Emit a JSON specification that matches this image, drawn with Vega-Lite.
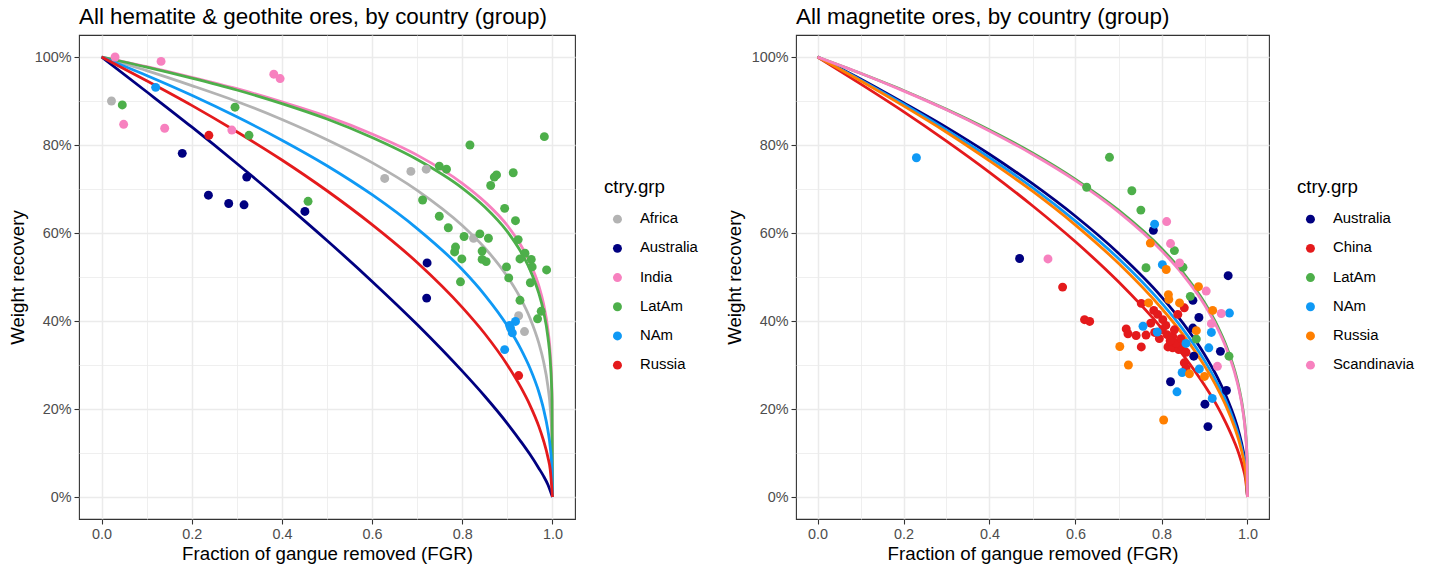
{
  "$schema": "https://vega.github.io/schema/vega-lite/v6.json",
  "background": "white",
  "padding": {"left": 7, "top": 5, "right": 5, "bottom": 2},
  "config": {
    "font": "Liberation Sans",
    "view": {"stroke": "#333333", "strokeWidth": 1.1},
    "axis": {"domain": false, "gridColor": "#EBEBEB", "tickColor": "#333333", "tickSize": 5, "tickWidth": 1.1, "labelColor": "#4D4D4D", "labelFontSize": 14.4, "titleFontSize": 18.7, "titleFontWeight": "normal", "titleColor": "#000000", "labelPadding": 3, "labelOverlap": false, "labelFlush": false},
    "axisY": {"titlePadding": 7},
    "axisX": {"titlePadding": 4},
    "legend": {"titleFontSize": 18.7, "titleFontWeight": "normal", "titleColor": "#000000", "labelFontSize": 14.9, "labelColor": "#000000", "symbolSize": 80, "symbolType": "circle", "symbolStrokeWidth": 0, "rowPadding": 13.2, "titlePadding": 15, "symbolOffset": 6, "labelOffset": 15, "padding": 0},
    "title": {"fontSize": 22.4, "fontWeight": "normal", "anchor": "start", "frame": "group", "color": "#000000", "offset": 7}
  },
  "datasets": {
    "hem_pts": [
      {"g": "Africa", "fgr": 0.022, "wr": 0.900}, {"g": "Africa", "fgr": 0.628, "wr": 0.724}, {"g": "Africa", "fgr": 0.686, "wr": 0.740}, {"g": "Africa", "fgr": 0.720, "wr": 0.745}, {"g": "Africa", "fgr": 0.825, "wr": 0.588}, {"g": "Africa", "fgr": 0.925, "wr": 0.412}, {"g": "Africa", "fgr": 0.938, "wr": 0.376},
      {"g": "Australia", "fgr": 0.179, "wr": 0.781}, {"g": "Australia", "fgr": 0.237, "wr": 0.686}, {"g": "Australia", "fgr": 0.282, "wr": 0.667}, {"g": "Australia", "fgr": 0.316, "wr": 0.664}, {"g": "Australia", "fgr": 0.322, "wr": 0.727}, {"g": "Australia", "fgr": 0.451, "wr": 0.649}, {"g": "Australia", "fgr": 0.722, "wr": 0.532}, {"g": "Australia", "fgr": 0.721, "wr": 0.452},
      {"g": "India", "fgr": 0.030, "wr": 1.000}, {"g": "India", "fgr": 0.132, "wr": 0.990}, {"g": "India", "fgr": 0.049, "wr": 0.847}, {"g": "India", "fgr": 0.140, "wr": 0.838}, {"g": "India", "fgr": 0.289, "wr": 0.834}, {"g": "India", "fgr": 0.382, "wr": 0.961}, {"g": "India", "fgr": 0.396, "wr": 0.951},
      {"g": "LatAm", "fgr": 0.046, "wr": 0.891}, {"g": "LatAm", "fgr": 0.296, "wr": 0.886}, {"g": "LatAm", "fgr": 0.327, "wr": 0.822}, {"g": "LatAm", "fgr": 0.458, "wr": 0.672}, {"g": "LatAm", "fgr": 0.982, "wr": 0.819}, {"g": "LatAm", "fgr": 0.817, "wr": 0.800}, {"g": "LatAm", "fgr": 0.749, "wr": 0.752}, {"g": "LatAm", "fgr": 0.765, "wr": 0.745}, {"g": "LatAm", "fgr": 0.913, "wr": 0.737}, {"g": "LatAm", "fgr": 0.876, "wr": 0.732}, {"g": "LatAm", "fgr": 0.871, "wr": 0.727}, {"g": "LatAm", "fgr": 0.863, "wr": 0.708}, {"g": "LatAm", "fgr": 0.712, "wr": 0.675}, {"g": "LatAm", "fgr": 0.894, "wr": 0.656}, {"g": "LatAm", "fgr": 0.749, "wr": 0.638}, {"g": "LatAm", "fgr": 0.918, "wr": 0.628}, {"g": "LatAm", "fgr": 0.769, "wr": 0.612}, {"g": "LatAm", "fgr": 0.804, "wr": 0.592}, {"g": "LatAm", "fgr": 0.839, "wr": 0.598}, {"g": "LatAm", "fgr": 0.858, "wr": 0.588}, {"g": "LatAm", "fgr": 0.924, "wr": 0.585}, {"g": "LatAm", "fgr": 0.785, "wr": 0.568}, {"g": "LatAm", "fgr": 0.783, "wr": 0.557}, {"g": "LatAm", "fgr": 0.799, "wr": 0.541}, {"g": "LatAm", "fgr": 0.844, "wr": 0.559}, {"g": "LatAm", "fgr": 0.844, "wr": 0.540}, {"g": "LatAm", "fgr": 0.853, "wr": 0.535}, {"g": "LatAm", "fgr": 0.939, "wr": 0.554}, {"g": "LatAm", "fgr": 0.928, "wr": 0.541}, {"g": "LatAm", "fgr": 0.953, "wr": 0.540}, {"g": "LatAm", "fgr": 0.955, "wr": 0.523}, {"g": "LatAm", "fgr": 0.898, "wr": 0.523}, {"g": "LatAm", "fgr": 0.987, "wr": 0.516}, {"g": "LatAm", "fgr": 0.903, "wr": 0.498}, {"g": "LatAm", "fgr": 0.796, "wr": 0.489}, {"g": "LatAm", "fgr": 0.928, "wr": 0.447}, {"g": "LatAm", "fgr": 0.951, "wr": 0.487}, {"g": "LatAm", "fgr": 0.975, "wr": 0.422}, {"g": "LatAm", "fgr": 0.967, "wr": 0.405},
      {"g": "NAm", "fgr": 0.120, "wr": 0.931}, {"g": "NAm", "fgr": 0.907, "wr": 0.384}, {"g": "NAm", "fgr": 0.918, "wr": 0.399}, {"g": "NAm", "fgr": 0.911, "wr": 0.373}, {"g": "NAm", "fgr": 0.905, "wr": 0.390}, {"g": "NAm", "fgr": 0.894, "wr": 0.335},
      {"g": "Russia", "fgr": 0.238, "wr": 0.822}, {"g": "Russia", "fgr": 0.925, "wr": 0.276}
    ],
    "hem_fit": [
      {"g": "Africa", "fgr": 0, "wr": 1}, {"g": "Africa", "fgr": 0.1, "wr": 0.969}, {"g": "Africa", "fgr": 0.2, "wr": 0.935}, {"g": "Africa", "fgr": 0.3, "wr": 0.899}, {"g": "Africa", "fgr": 0.4, "wr": 0.858}, {"g": "Africa", "fgr": 0.5, "wr": 0.812}, {"g": "Africa", "fgr": 0.6, "wr": 0.760}, {"g": "Africa", "fgr": 0.7, "wr": 0.697}, {"g": "Africa", "fgr": 0.8, "wr": 0.617}, {"g": "Africa", "fgr": 0.85, "wr": 0.566}, {"g": "Africa", "fgr": 0.9, "wr": 0.501}, {"g": "Africa", "fgr": 0.93, "wr": 0.450}, {"g": "Africa", "fgr": 0.95, "wr": 0.407}, {"g": "Africa", "fgr": 0.97, "wr": 0.349}, {"g": "Africa", "fgr": 0.98, "wr": 0.309}, {"g": "Africa", "fgr": 0.99, "wr": 0.251}, {"g": "Africa", "fgr": 0.995, "wr": 0.204}, {"g": "Africa", "fgr": 0.999, "wr": 0.126}, {"g": "Africa", "fgr": 1, "wr": 0},
      {"g": "Australia", "fgr": 0, "wr": 1}, {"g": "Australia", "fgr": 0.1, "wr": 0.921}, {"g": "Australia", "fgr": 0.2, "wr": 0.841}, {"g": "Australia", "fgr": 0.3, "wr": 0.758}, {"g": "Australia", "fgr": 0.4, "wr": 0.672}, {"g": "Australia", "fgr": 0.5, "wr": 0.583}, {"g": "Australia", "fgr": 0.6, "wr": 0.490}, {"g": "Australia", "fgr": 0.7, "wr": 0.392}, {"g": "Australia", "fgr": 0.8, "wr": 0.286}, {"g": "Australia", "fgr": 0.85, "wr": 0.229}, {"g": "Australia", "fgr": 0.9, "wr": 0.167}, {"g": "Australia", "fgr": 0.93, "wr": 0.126}, {"g": "Australia", "fgr": 0.95, "wr": 0.097}, {"g": "Australia", "fgr": 0.97, "wr": 0.065}, {"g": "Australia", "fgr": 0.98, "wr": 0.048}, {"g": "Australia", "fgr": 0.99, "wr": 0.028}, {"g": "Australia", "fgr": 1, "wr": 0},
      {"g": "India", "fgr": 0, "wr": 1}, {"g": "India", "fgr": 0.1, "wr": 0.978}, {"g": "India", "fgr": 0.2, "wr": 0.954}, {"g": "India", "fgr": 0.3, "wr": 0.928}, {"g": "India", "fgr": 0.4, "wr": 0.898}, {"g": "India", "fgr": 0.5, "wr": 0.865}, {"g": "India", "fgr": 0.6, "wr": 0.825}, {"g": "India", "fgr": 0.7, "wr": 0.777}, {"g": "India", "fgr": 0.8, "wr": 0.713}, {"g": "India", "fgr": 0.85, "wr": 0.671}, {"g": "India", "fgr": 0.9, "wr": 0.617}, {"g": "India", "fgr": 0.93, "wr": 0.572}, {"g": "India", "fgr": 0.95, "wr": 0.533}, {"g": "India", "fgr": 0.97, "wr": 0.479}, {"g": "India", "fgr": 0.98, "wr": 0.440}, {"g": "India", "fgr": 0.99, "wr": 0.380}, {"g": "India", "fgr": 0.995, "wr": 0.329}, {"g": "India", "fgr": 0.999, "wr": 0.234}, {"g": "India", "fgr": 1, "wr": 0},
      {"g": "LatAm", "fgr": 0, "wr": 1}, {"g": "LatAm", "fgr": 0.1, "wr": 0.977}, {"g": "LatAm", "fgr": 0.2, "wr": 0.952}, {"g": "LatAm", "fgr": 0.3, "wr": 0.925}, {"g": "LatAm", "fgr": 0.4, "wr": 0.894}, {"g": "LatAm", "fgr": 0.5, "wr": 0.859}, {"g": "LatAm", "fgr": 0.6, "wr": 0.817}, {"g": "LatAm", "fgr": 0.7, "wr": 0.767}, {"g": "LatAm", "fgr": 0.8, "wr": 0.702}, {"g": "LatAm", "fgr": 0.85, "wr": 0.659}, {"g": "LatAm", "fgr": 0.9, "wr": 0.603}, {"g": "LatAm", "fgr": 0.93, "wr": 0.557}, {"g": "LatAm", "fgr": 0.95, "wr": 0.517}, {"g": "LatAm", "fgr": 0.97, "wr": 0.462}, {"g": "LatAm", "fgr": 0.98, "wr": 0.423}, {"g": "LatAm", "fgr": 0.99, "wr": 0.363}, {"g": "LatAm", "fgr": 0.995, "wr": 0.312}, {"g": "LatAm", "fgr": 0.999, "wr": 0.219}, {"g": "LatAm", "fgr": 1, "wr": 0},
      {"g": "NAm", "fgr": 0, "wr": 1}, {"g": "NAm", "fgr": 0.1, "wr": 0.958}, {"g": "NAm", "fgr": 0.2, "wr": 0.913}, {"g": "NAm", "fgr": 0.3, "wr": 0.864}, {"g": "NAm", "fgr": 0.4, "wr": 0.811}, {"g": "NAm", "fgr": 0.5, "wr": 0.753}, {"g": "NAm", "fgr": 0.6, "wr": 0.687}, {"g": "NAm", "fgr": 0.7, "wr": 0.610}, {"g": "NAm", "fgr": 0.8, "wr": 0.517}, {"g": "NAm", "fgr": 0.85, "wr": 0.459}, {"g": "NAm", "fgr": 0.9, "wr": 0.389}, {"g": "NAm", "fgr": 0.93, "wr": 0.336}, {"g": "NAm", "fgr": 0.95, "wr": 0.293}, {"g": "NAm", "fgr": 0.97, "wr": 0.238}, {"g": "NAm", "fgr": 0.98, "wr": 0.201}, {"g": "NAm", "fgr": 0.99, "wr": 0.151}, {"g": "NAm", "fgr": 0.995, "wr": 0.114}, {"g": "NAm", "fgr": 0.999, "wr": 0.059}, {"g": "NAm", "fgr": 1, "wr": 0},
      {"g": "Russia", "fgr": 0, "wr": 1}, {"g": "Russia", "fgr": 0.1, "wr": 0.946}, {"g": "Russia", "fgr": 0.2, "wr": 0.890}, {"g": "Russia", "fgr": 0.3, "wr": 0.830}, {"g": "Russia", "fgr": 0.4, "wr": 0.766}, {"g": "Russia", "fgr": 0.5, "wr": 0.696}, {"g": "Russia", "fgr": 0.6, "wr": 0.619}, {"g": "Russia", "fgr": 0.7, "wr": 0.533}, {"g": "Russia", "fgr": 0.8, "wr": 0.431}, {"g": "Russia", "fgr": 0.85, "wr": 0.371}, {"g": "Russia", "fgr": 0.9, "wr": 0.300}, {"g": "Russia", "fgr": 0.93, "wr": 0.249}, {"g": "Russia", "fgr": 0.95, "wr": 0.209}, {"g": "Russia", "fgr": 0.97, "wr": 0.160}, {"g": "Russia", "fgr": 0.98, "wr": 0.129}, {"g": "Russia", "fgr": 0.99, "wr": 0.090}, {"g": "Russia", "fgr": 0.995, "wr": 0.063}, {"g": "Russia", "fgr": 1, "wr": 0}
    ],
    "mag_pts": [
      {"g": "Australia", "fgr": 0.470, "wr": 0.542}, {"g": "Australia", "fgr": 0.781, "wr": 0.606}, {"g": "Australia", "fgr": 0.955, "wr": 0.503}, {"g": "Australia", "fgr": 0.873, "wr": 0.447}, {"g": "Australia", "fgr": 0.887, "wr": 0.408}, {"g": "Australia", "fgr": 0.873, "wr": 0.384}, {"g": "Australia", "fgr": 0.937, "wr": 0.331}, {"g": "Australia", "fgr": 0.875, "wr": 0.320}, {"g": "Australia", "fgr": 0.821, "wr": 0.262}, {"g": "Australia", "fgr": 0.951, "wr": 0.242}, {"g": "Australia", "fgr": 0.901, "wr": 0.211}, {"g": "Australia", "fgr": 0.908, "wr": 0.160},
      {"g": "China", "fgr": 0.570, "wr": 0.477}, {"g": "China", "fgr": 0.621, "wr": 0.403}, {"g": "China", "fgr": 0.633, "wr": 0.399}, {"g": "China", "fgr": 0.718, "wr": 0.382}, {"g": "China", "fgr": 0.722, "wr": 0.371}, {"g": "China", "fgr": 0.741, "wr": 0.367}, {"g": "China", "fgr": 0.753, "wr": 0.341}, {"g": "China", "fgr": 0.764, "wr": 0.368}, {"g": "China", "fgr": 0.784, "wr": 0.374}, {"g": "China", "fgr": 0.753, "wr": 0.440}, {"g": "China", "fgr": 0.782, "wr": 0.424}, {"g": "China", "fgr": 0.791, "wr": 0.415}, {"g": "China", "fgr": 0.803, "wr": 0.403}, {"g": "China", "fgr": 0.802, "wr": 0.380}, {"g": "China", "fgr": 0.813, "wr": 0.369}, {"g": "China", "fgr": 0.826, "wr": 0.365}, {"g": "China", "fgr": 0.815, "wr": 0.341}, {"g": "China", "fgr": 0.826, "wr": 0.339}, {"g": "China", "fgr": 0.840, "wr": 0.335}, {"g": "China", "fgr": 0.848, "wr": 0.342}, {"g": "China", "fgr": 0.857, "wr": 0.329}, {"g": "China", "fgr": 0.853, "wr": 0.305}, {"g": "China", "fgr": 0.857, "wr": 0.293}, {"g": "China", "fgr": 0.838, "wr": 0.415}, {"g": "China", "fgr": 0.853, "wr": 0.430}, {"g": "China", "fgr": 0.834, "wr": 0.350}, {"g": "China", "fgr": 0.810, "wr": 0.390}, {"g": "China", "fgr": 0.795, "wr": 0.360}, {"g": "China", "fgr": 0.830, "wr": 0.380}, {"g": "China", "fgr": 0.845, "wr": 0.360}, {"g": "China", "fgr": 0.775, "wr": 0.395}, {"g": "China", "fgr": 0.820, "wr": 0.355},
      {"g": "LatAm", "fgr": 0.679, "wr": 0.772}, {"g": "LatAm", "fgr": 0.626, "wr": 0.704}, {"g": "LatAm", "fgr": 0.731, "wr": 0.696}, {"g": "LatAm", "fgr": 0.752, "wr": 0.652}, {"g": "LatAm", "fgr": 0.830, "wr": 0.560}, {"g": "LatAm", "fgr": 0.850, "wr": 0.522}, {"g": "LatAm", "fgr": 0.764, "wr": 0.521}, {"g": "LatAm", "fgr": 0.867, "wr": 0.456}, {"g": "LatAm", "fgr": 0.881, "wr": 0.359}, {"g": "LatAm", "fgr": 0.957, "wr": 0.320},
      {"g": "NAm", "fgr": 0.230, "wr": 0.771}, {"g": "NAm", "fgr": 0.784, "wr": 0.620}, {"g": "NAm", "fgr": 0.802, "wr": 0.528}, {"g": "NAm", "fgr": 0.757, "wr": 0.388}, {"g": "NAm", "fgr": 0.958, "wr": 0.418}, {"g": "NAm", "fgr": 0.916, "wr": 0.374}, {"g": "NAm", "fgr": 0.910, "wr": 0.339}, {"g": "NAm", "fgr": 0.857, "wr": 0.349}, {"g": "NAm", "fgr": 0.848, "wr": 0.283}, {"g": "NAm", "fgr": 0.888, "wr": 0.291}, {"g": "NAm", "fgr": 0.836, "wr": 0.239}, {"g": "NAm", "fgr": 0.918, "wr": 0.224}, {"g": "NAm", "fgr": 0.790, "wr": 0.375},
      {"g": "Russia", "fgr": 0.774, "wr": 0.577}, {"g": "Russia", "fgr": 0.811, "wr": 0.517}, {"g": "Russia", "fgr": 0.703, "wr": 0.342}, {"g": "Russia", "fgr": 0.723, "wr": 0.300}, {"g": "Russia", "fgr": 0.770, "wr": 0.441}, {"g": "Russia", "fgr": 0.816, "wr": 0.460}, {"g": "Russia", "fgr": 0.817, "wr": 0.449}, {"g": "Russia", "fgr": 0.842, "wr": 0.441}, {"g": "Russia", "fgr": 0.886, "wr": 0.478}, {"g": "Russia", "fgr": 0.919, "wr": 0.424}, {"g": "Russia", "fgr": 0.881, "wr": 0.378}, {"g": "Russia", "fgr": 0.865, "wr": 0.280}, {"g": "Russia", "fgr": 0.900, "wr": 0.274}, {"g": "Russia", "fgr": 0.805, "wr": 0.175},
      {"g": "Scandinavia", "fgr": 0.536, "wr": 0.541}, {"g": "Scandinavia", "fgr": 0.812, "wr": 0.626}, {"g": "Scandinavia", "fgr": 0.821, "wr": 0.576}, {"g": "Scandinavia", "fgr": 0.842, "wr": 0.532}, {"g": "Scandinavia", "fgr": 0.904, "wr": 0.468}, {"g": "Scandinavia", "fgr": 0.939, "wr": 0.417}, {"g": "Scandinavia", "fgr": 0.916, "wr": 0.394}, {"g": "Scandinavia", "fgr": 0.930, "wr": 0.297}
    ],
    "mag_fit": [
      {"g": "Australia", "fgr": 0, "wr": 1}, {"g": "Australia", "fgr": 0.1, "wr": 0.950}, {"g": "Australia", "fgr": 0.2, "wr": 0.896}, {"g": "Australia", "fgr": 0.3, "wr": 0.840}, {"g": "Australia", "fgr": 0.4, "wr": 0.779}, {"g": "Australia", "fgr": 0.5, "wr": 0.712}, {"g": "Australia", "fgr": 0.6, "wr": 0.638}, {"g": "Australia", "fgr": 0.7, "wr": 0.554}, {"g": "Australia", "fgr": 0.8, "wr": 0.455}, {"g": "Australia", "fgr": 0.85, "wr": 0.395}, {"g": "Australia", "fgr": 0.9, "wr": 0.324}, {"g": "Australia", "fgr": 0.93, "wr": 0.272}, {"g": "Australia", "fgr": 0.95, "wr": 0.230}, {"g": "Australia", "fgr": 0.97, "wr": 0.179}, {"g": "Australia", "fgr": 0.98, "wr": 0.147}, {"g": "Australia", "fgr": 0.99, "wr": 0.105}, {"g": "Australia", "fgr": 0.995, "wr": 0.075}, {"g": "Australia", "fgr": 1, "wr": 0},
      {"g": "China", "fgr": 0, "wr": 1}, {"g": "China", "fgr": 0.1, "wr": 0.939}, {"g": "China", "fgr": 0.2, "wr": 0.876}, {"g": "China", "fgr": 0.3, "wr": 0.809}, {"g": "China", "fgr": 0.4, "wr": 0.738}, {"g": "China", "fgr": 0.5, "wr": 0.662}, {"g": "China", "fgr": 0.6, "wr": 0.580}, {"g": "China", "fgr": 0.7, "wr": 0.489}, {"g": "China", "fgr": 0.8, "wr": 0.384}, {"g": "China", "fgr": 0.85, "wr": 0.323}, {"g": "China", "fgr": 0.9, "wr": 0.254}, {"g": "China", "fgr": 0.93, "wr": 0.206}, {"g": "China", "fgr": 0.95, "wr": 0.168}, {"g": "China", "fgr": 0.97, "wr": 0.124}, {"g": "China", "fgr": 0.98, "wr": 0.098}, {"g": "China", "fgr": 0.99, "wr": 0.065}, {"g": "China", "fgr": 0.995, "wr": 0.043}, {"g": "China", "fgr": 1, "wr": 0},
      {"g": "LatAm", "fgr": 0, "wr": 1}, {"g": "LatAm", "fgr": 0.1, "wr": 0.963}, {"g": "LatAm", "fgr": 0.2, "wr": 0.924}, {"g": "LatAm", "fgr": 0.3, "wr": 0.881}, {"g": "LatAm", "fgr": 0.4, "wr": 0.834}, {"g": "LatAm", "fgr": 0.5, "wr": 0.782}, {"g": "LatAm", "fgr": 0.6, "wr": 0.722}, {"g": "LatAm", "fgr": 0.7, "wr": 0.652}, {"g": "LatAm", "fgr": 0.8, "wr": 0.565}, {"g": "LatAm", "fgr": 0.85, "wr": 0.510}, {"g": "LatAm", "fgr": 0.9, "wr": 0.442}, {"g": "LatAm", "fgr": 0.93, "wr": 0.389}, {"g": "LatAm", "fgr": 0.95, "wr": 0.345}, {"g": "LatAm", "fgr": 0.97, "wr": 0.288}, {"g": "LatAm", "fgr": 0.98, "wr": 0.249}, {"g": "LatAm", "fgr": 0.99, "wr": 0.195}, {"g": "LatAm", "fgr": 0.995, "wr": 0.152}, {"g": "LatAm", "fgr": 0.999, "wr": 0.086}, {"g": "LatAm", "fgr": 1, "wr": 0},
      {"g": "NAm", "fgr": 0, "wr": 1}, {"g": "NAm", "fgr": 0.1, "wr": 0.948}, {"g": "NAm", "fgr": 0.2, "wr": 0.893}, {"g": "NAm", "fgr": 0.3, "wr": 0.834}, {"g": "NAm", "fgr": 0.4, "wr": 0.771}, {"g": "NAm", "fgr": 0.5, "wr": 0.703}, {"g": "NAm", "fgr": 0.6, "wr": 0.627}, {"g": "NAm", "fgr": 0.7, "wr": 0.542}, {"g": "NAm", "fgr": 0.8, "wr": 0.441}, {"g": "NAm", "fgr": 0.85, "wr": 0.381}, {"g": "NAm", "fgr": 0.9, "wr": 0.310}, {"g": "NAm", "fgr": 0.93, "wr": 0.258}, {"g": "NAm", "fgr": 0.95, "wr": 0.218}, {"g": "NAm", "fgr": 0.97, "wr": 0.168}, {"g": "NAm", "fgr": 0.98, "wr": 0.137}, {"g": "NAm", "fgr": 0.99, "wr": 0.096}, {"g": "NAm", "fgr": 0.995, "wr": 0.067}, {"g": "NAm", "fgr": 1, "wr": 0},
      {"g": "Russia", "fgr": 0, "wr": 1}, {"g": "Russia", "fgr": 0.1, "wr": 0.946}, {"g": "Russia", "fgr": 0.2, "wr": 0.889}, {"g": "Russia", "fgr": 0.3, "wr": 0.829}, {"g": "Russia", "fgr": 0.4, "wr": 0.764}, {"g": "Russia", "fgr": 0.5, "wr": 0.695}, {"g": "Russia", "fgr": 0.6, "wr": 0.618}, {"g": "Russia", "fgr": 0.7, "wr": 0.531}, {"g": "Russia", "fgr": 0.8, "wr": 0.429}, {"g": "Russia", "fgr": 0.85, "wr": 0.369}, {"g": "Russia", "fgr": 0.9, "wr": 0.298}, {"g": "Russia", "fgr": 0.93, "wr": 0.247}, {"g": "Russia", "fgr": 0.95, "wr": 0.207}, {"g": "Russia", "fgr": 0.97, "wr": 0.158}, {"g": "Russia", "fgr": 0.98, "wr": 0.128}, {"g": "Russia", "fgr": 0.99, "wr": 0.089}, {"g": "Russia", "fgr": 0.995, "wr": 0.062}, {"g": "Russia", "fgr": 1, "wr": 0},
      {"g": "Scandinavia", "fgr": 0, "wr": 1}, {"g": "Scandinavia", "fgr": 0.1, "wr": 0.963}, {"g": "Scandinavia", "fgr": 0.2, "wr": 0.923}, {"g": "Scandinavia", "fgr": 0.3, "wr": 0.880}, {"g": "Scandinavia", "fgr": 0.4, "wr": 0.832}, {"g": "Scandinavia", "fgr": 0.5, "wr": 0.779}, {"g": "Scandinavia", "fgr": 0.6, "wr": 0.719}, {"g": "Scandinavia", "fgr": 0.7, "wr": 0.648}, {"g": "Scandinavia", "fgr": 0.8, "wr": 0.560}, {"g": "Scandinavia", "fgr": 0.85, "wr": 0.505}, {"g": "Scandinavia", "fgr": 0.9, "wr": 0.437}, {"g": "Scandinavia", "fgr": 0.93, "wr": 0.384}, {"g": "Scandinavia", "fgr": 0.95, "wr": 0.340}, {"g": "Scandinavia", "fgr": 0.97, "wr": 0.283}, {"g": "Scandinavia", "fgr": 0.98, "wr": 0.245}, {"g": "Scandinavia", "fgr": 0.99, "wr": 0.191}, {"g": "Scandinavia", "fgr": 0.995, "wr": 0.149}, {"g": "Scandinavia", "fgr": 0.999, "wr": 0.083}, {"g": "Scandinavia", "fgr": 1, "wr": 0}
    ]
  },
  "resolve": {"scale": {"color": "independent", "stroke": "independent"}, "legend": {"color": "independent"}},
  "spacing": 25,
  "hconcat": [
    {
      "width": 496,
      "height": 484,
      "title": {"text": "All hematite & geothite ores, by country (group)"},
      "encoding": {
        "x": {"field": "fgr", "type": "quantitative", "title": "Fraction of gangue removed (FGR)",
          "scale": {"domain": [-0.05, 1.05], "nice": false, "zero": false},
          "axis": {"values": [0, 0.1, 0.2, 0.3, 0.4, 0.5, 0.6, 0.7, 0.8, 0.9, 1.0],
            "labelExpr": "round(datum.value*10) % 2 == 0 ? format(datum.value, '.1f') : ''",
            "tickOpacity": {"condition": {"test": "round(datum.value*10) % 2 == 1", "value": 0}, "value": 1},
            "gridWidth": {"condition": {"test": "round(datum.value*10) % 2 == 1", "value": 0.8}, "value": 1.5}}},
        "y": {"field": "wr", "type": "quantitative", "title": "Weight recovery",
          "scale": {"domain": [-0.05, 1.05], "nice": false, "zero": false},
          "axis": {"values": [0, 0.1, 0.2, 0.3, 0.4, 0.5, 0.6, 0.7, 0.8, 0.9, 1.0],
            "labelExpr": "round(datum.value*10) % 2 == 0 ? format(datum.value, '.0%') : ''",
            "tickOpacity": {"condition": {"test": "round(datum.value*10) % 2 == 1", "value": 0}, "value": 1},
            "gridWidth": {"condition": {"test": "round(datum.value*10) % 2 == 1", "value": 0.8}, "value": 1.5}}}
      },
      "layer": [
        {"data": {"name": "hem_fit"}, "mark": {"type": "line", "strokeWidth": 2.8, "interpolate": "monotone"},
          "encoding": {"stroke": {"field": "g", "type": "nominal", "legend": null,
            "scale": {"range": ["#B3B3B3", "#000080", "#F781BF", "#4DAF4A", "#0F99F5", "#E41A1C"]}}}},
        {"data": {"name": "hem_pts"}, "mark": {"type": "circle", "size": 80, "opacity": 1},
          "encoding": {"color": {"field": "g", "type": "nominal",
            "scale": {"domain": ["Africa", "Australia", "India", "LatAm", "NAm", "Russia"], "range": ["#B3B3B3", "#000080", "#F781BF", "#4DAF4A", "#0F99F5", "#E41A1C"]},
            "legend": {"title": "ctry.grp", "orient": "none", "legendX": 525, "legendY": 143}}}}
      ]
    },
    {
      "width": 473,
      "height": 484,
      "title": {"text": "All magnetite ores, by country (group)"},
      "encoding": {
        "x": {"field": "fgr", "type": "quantitative", "title": "Fraction of gangue removed (FGR)",
          "scale": {"domain": [-0.05, 1.05], "nice": false, "zero": false},
          "axis": {"values": [0, 0.1, 0.2, 0.3, 0.4, 0.5, 0.6, 0.7, 0.8, 0.9, 1.0],
            "labelExpr": "round(datum.value*10) % 2 == 0 ? format(datum.value, '.1f') : ''",
            "tickOpacity": {"condition": {"test": "round(datum.value*10) % 2 == 1", "value": 0}, "value": 1},
            "gridWidth": {"condition": {"test": "round(datum.value*10) % 2 == 1", "value": 0.8}, "value": 1.5}}},
        "y": {"field": "wr", "type": "quantitative", "title": "Weight recovery",
          "scale": {"domain": [-0.05, 1.05], "nice": false, "zero": false},
          "axis": {"values": [0, 0.1, 0.2, 0.3, 0.4, 0.5, 0.6, 0.7, 0.8, 0.9, 1.0],
            "labelExpr": "round(datum.value*10) % 2 == 0 ? format(datum.value, '.0%') : ''",
            "tickOpacity": {"condition": {"test": "round(datum.value*10) % 2 == 1", "value": 0}, "value": 1},
            "gridWidth": {"condition": {"test": "round(datum.value*10) % 2 == 1", "value": 0.8}, "value": 1.5}}}
      },
      "layer": [
        {"data": {"name": "mag_fit"}, "mark": {"type": "line", "strokeWidth": 2.8, "interpolate": "monotone"},
          "encoding": {"stroke": {"field": "g", "type": "nominal", "legend": null,
            "scale": {"range": ["#000080", "#E41A1C", "#4DAF4A", "#0F99F5", "#FF7F00", "#F781BF"]}}}},
        {"data": {"name": "mag_pts"}, "mark": {"type": "circle", "size": 80, "opacity": 1},
          "encoding": {"color": {"field": "g", "type": "nominal",
            "scale": {"domain": ["Australia", "China", "LatAm", "NAm", "Russia", "Scandinavia"], "range": ["#000080", "#E41A1C", "#4DAF4A", "#0F99F5", "#FF7F00", "#F781BF"]},
            "legend": {"title": "ctry.grp", "orient": "none", "legendX": 501, "legendY": 143}}}}
      ]
    }
  ]
}
